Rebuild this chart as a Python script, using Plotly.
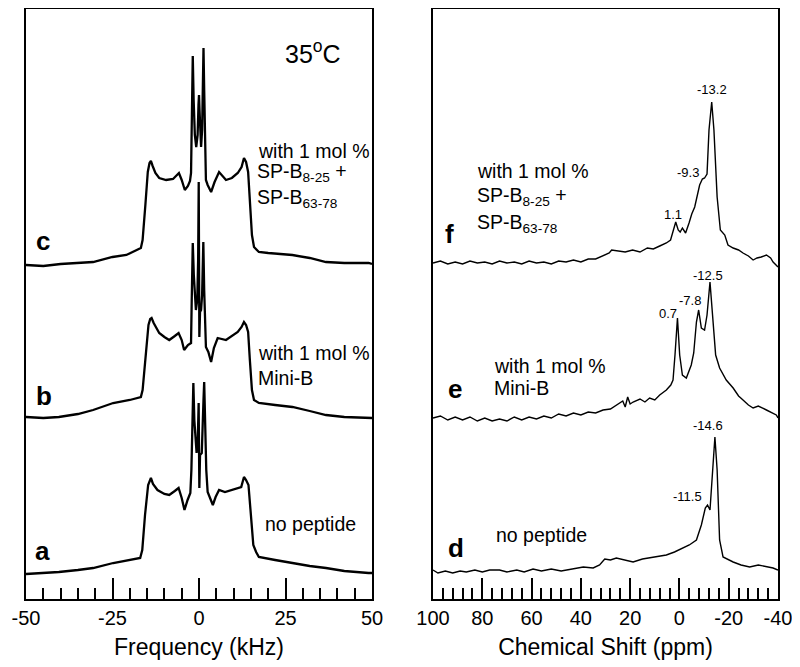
import plotly.graph_objects as go

FONT = "Liberation Sans, Arial, Helvetica, sans-serif"

# ---------------- Left panel: 2H NMR spectra (frequency, kHz) ----------------
c_khz = [-50, -45, -40, -35, -30.6, -25, -21, -16.8, -16.3, -15.5, -14.8, -14.3, -13.9, -13.4, -12.6,
         -11.5, -9.5, -7.5, -5.8, -5.0, -4.1, -3.2, -2.6, -2.3, -2.05, -1.8, -1.55, -1.2, -0.8, -0.4,
         -0.15, 0, 0.15, 0.35, 0.6, 0.9, 1.1, 1.3, 1.5, 1.75, 2.0, 2.5, 3.5, 4.5, 5.8,
         7.8, 9.5, 11.2, 12.3, 13.0, 13.6, 14.2, 14.7, 15.3, 15.9, 17.3, 20, 27, 32, 36.7, 42, 49, 50]
c_int = [0, -1, 1, 2, 3, 8, 10, 17, 25, 60, 93, 102, 104, 99, 92,
         87, 85, 86, 92, 85, 75, 79, 84, 92, 145, 209, 165, 130, 118, 130,
         160, 170, 155, 125, 118, 135, 175, 217, 175, 115, 85, 80, 73, 83, 93,
         85, 87, 92, 98, 107, 103, 93, 65, 30, 18, 13, 12, 10, 7, 3, 2, 2, 1]

b_khz = [-50, -45, -40.5, -35, -30.6, -27, -24.8, -20, -16.8, -16.3, -15.5, -14.6, -14.1, -13.7, -13.1,
         -11.5, -10, -8.6, -7, -5.9, -5, -4.3, -3.2, -2.3, -2.1, -1.8, -1.5, -1.2, -0.9, -0.5,
         -0.25, -0.08, 0.1, 0.3, 0.6, 0.9, 1.05, 1.25, 1.5, 1.8, 2.0, 2.7, 3.5, 4.3, 5.4,
         7.8, 9.5, 11.2, 12.3, 13.0, 13.6, 14.2, 14.7, 15.3, 15.9, 17.3, 22, 27, 32, 36.7, 42, 49, 50]
b_int = [1, 0, 1, 4, 8, 12, 15, 18, 21, 28, 63, 93, 99, 100, 95,
         85, 81, 78, 82, 85, 78, 68, 73, 75, 118, 175, 143, 118, 108, 118,
         158, 236, 81, 106, 108, 123, 148, 176, 128, 78, 71, 66, 56, 70, 80,
         78, 82, 86, 91, 96, 93, 86, 58, 28, 18, 15, 13, 11, 7, 3, 1, 0, 0]

a_khz = [-50, -45, -40.5, -35, -30.6, -24.8, -20, -17, -16.4, -15.6, -14.7, -14.2, -13.9, -13.3, -12,
         -10, -8.6, -7, -5.9, -5, -4.2, -3.3, -2.5, -2.2, -1.9, -1.63, -1.35, -1.0, -0.7, -0.35,
         -0.1, 0.1, 0.3, 0.8, 1.1, 1.3, 1.5, 1.75, 2.1, 2.5, 3.2, 4.0, 4.8, 5.8, 7.5,
         9.7, 12.2, 13.0, 13.6, 14.3, 15.0, 15.7, 16.5, 17.3, 22, 27, 32, 36.7, 42, 49, 50]
a_int = [-1, 0, 1, 3, 5, 10, 13, 15, 23, 58, 88, 94, 95, 89, 83,
         79, 78, 82, 85, 75, 63, 73, 80, 103, 153, 190, 153, 128, 120, 133,
         170, 85, 118, 120, 143, 173, 191, 153, 103, 81, 75, 68, 76, 83, 81,
         83, 86, 96, 93, 88, 53, 28, 21, 16, 13, 10, 7, 5, 2, 0, 0]

# ---------------- Right panel: 31P NMR spectra (chemical shift, ppm) ----------------
f_ppm = [100, 97, 94, 91, 88, 85, 82, 79, 76, 73, 70, 67, 64, 61, 58, 55, 52, 49, 46, 43,
         40, 37, 34, 31, 28.5, 27.5, 25, 22, 19, 16, 13, 10.6, 8, 5.3, 3.6, 2.6, 1.5, 0.5, -0.3, -1.2,
         -2.5, -3.9, -5, -6.2, -7.2, -8.2, -9.3, -10.2, -11.2, -12, -13.1, -14, -15.3, -16.6, -18.4,
         -19.7, -21.8, -24, -25.8, -28, -29.9, -31.5, -33.2, -35.3, -37, -38, -40]
f_int = [0, 2, -1, 1, -1, 2, 0, 1, -1, 2, 0, 1, -1, 2, 0, 1, -1, 2, 1, 3,
         1, 4, 4, 7, 10, 13, 12, 11, 13, 11, 15, 14, 17, 20, 23, 33, 41, 33, 31, 35,
         30, 40, 49, 56, 67, 78, 84, 85, 89, 133, 161, 133, 66, 33, 28,
         18, 15, 13, 10, 7, 3, 5, 6, 8, 5, 1, -4]

e_ppm = [100, 97, 94, 91, 88, 85, 82, 79, 76, 73, 70, 67, 64, 61, 58, 55, 52, 49, 46, 43,
         40, 37, 34, 31, 28, 25.6, 23, 22, 21, 20, 18.8, 16, 14, 12.1, 10, 8, 5.3, 3.5, 2.6, 1.8,
         0.8, -0.1, -1.2, -2.8, -4.8, -5.8, -6.9, -7.8, -8.9, -10.2, -11.2, -12.4, -13.4, -14.7, -16.3,
         -19, -21.8, -24, -25.8, -28, -29.9, -32, -35.3, -37, -39.3, -40]
e_int = [0, 2, -2, 1, -2, 1, -3, 0, -3, -1, -3, 1, -2, 1, -1, 2, 0, 4, 2, 5,
         3, 6, 5, 8, 9, 13, 17, 11, 21, 14, 16, 19, 16, 20, 18, 23, 28, 33, 38, 63,
         100, 63, 43, 40, 53, 65, 96, 108, 90, 88, 103, 136, 103, 63, 50,
         38, 30, 22, 18, 13, 10, 12, 8, 6, 3, 0]

d_ppm = [100, 98, 95, 92, 89, 86.5, 83, 80, 77, 73, 70, 66, 63, 59.4, 56, 52, 48, 45.9, 42, 39,
         35, 32.4, 30.3, 28, 25.6, 22, 18.8, 15, 12.1, 9, 5.3, 2, -1.4, -4, -6.9,
         -8.9, -10.5, -11.4, -12.4, -13.4, -14.4, -15.3, -16.3, -17.7, -20, -21.8, -25, -28.5, -32, -35.3,
         -38, -40]
d_int = [0, -3, -1, -3, -1, -2, 0, -2, 0, 0, -2, 0, -2, 1, -1, 1, -1, 0, 2, 3,
         2, 5, 11, 10, 12, 10, 8, 11, 12, 13, 15, 18, 22, 25, 30,
         45, 62, 65, 60, 100, 133, 100, 30, 13, 10, 8, 5, 3, 5, 3,
         2, 0]

left_ticks = [-50, -25, 0, 25, 50]
right_ticks = [100, 80, 60, 40, 20, 0, -20, -40]

# vertical stacking offsets of the traces
OFF_C, OFF_B, OFF_A = 334, 181, 26
OFF_F, OFF_E, OFF_D = 336, 181, 29

fig = go.Figure()

def add(x, y, off, ax, width):
    fig.add_trace(go.Scatter(
        x=x, y=[v + off for v in y], mode="lines",
        line=dict(color="black", width=width, shape="linear"),
        xaxis="x" if ax == 1 else "x2", yaxis="y" if ax == 1 else "y2",
        showlegend=False, hoverinfo="skip"))

add(c_khz, c_int, OFF_C, 1, 2.3)
add(b_khz, b_int, OFF_B, 1, 2.3)
add(a_khz, a_int, OFF_A, 1, 2.3)
add(f_ppm, f_int, OFF_F, 2, 1.4)
add(e_ppm, e_int, OFF_E, 2, 1.4)
add(d_ppm, d_int, OFF_D, 2, 1.4)

W, H = 800, 667
SHIFT = 8  # page offset of the figure inside the browser window
def px(x):
    return min(1.0, max(0.0, (x - SHIFT) / W))
def py(y):
    return min(1.0, max(0.0, 1 - (y - SHIFT) / H))

TOP, BOTTOM = 9, 599

axis_common = dict(showgrid=False, zeroline=False, showline=True, mirror=True,
                   linecolor="black", linewidth=2, automargin=False)

fig.update_layout(
    template="none",
    width=W, height=H, margin=dict(l=0, r=0, t=0, b=0, pad=0),
    paper_bgcolor="white", plot_bgcolor="white", showlegend=False,
    font=dict(family=FONT, color="black"),
    xaxis=dict(domain=[px(26), px(372)], range=[-50, 50], anchor="y",
               tickmode="array", tickvals=left_ticks, ticktext=[str(t) for t in left_ticks],
               ticks="inside", ticklen=21, tickwidth=1.5, tickcolor="black",
               minor=dict(ticks="inside", ticklen=11, tickwidth=1.5, tickcolor="black",
                          tickmode="linear", tick0=0, dtick=5),
               tickfont=dict(size=20, family=FONT),
               title=dict(text="Frequency (kHz)", font=dict(size=23, family=FONT), standoff=11),
               **axis_common),
    yaxis=dict(domain=[py(BOTTOM), py(TOP)], range=[0, BOTTOM - TOP], anchor="x",
               showticklabels=False, ticks="", **axis_common),
    xaxis2=dict(domain=[px(433), px(778)], range=[100, -40], anchor="y2",
                tickmode="array", tickvals=right_ticks, ticktext=[str(t) for t in right_ticks],
                ticks="inside", ticklen=21, tickwidth=1.5, tickcolor="black",
                minor=dict(ticks="inside", ticklen=11, tickwidth=1.5, tickcolor="black",
                           tickmode="linear", tick0=0, dtick=4),
                tickfont=dict(size=20, family=FONT),
                title=dict(text="Chemical Shift (ppm)", font=dict(size=23, family=FONT), standoff=11),
                **axis_common),
    yaxis2=dict(domain=[py(BOTTOM), py(TOP)], range=[0, BOTTOM - TOP], anchor="x2",
                showticklabels=False, ticks="", **axis_common),
)

ann = []
def text(x, y, s, size, anchor="left", bold=False):
    ann.append(dict(x=px(x), y=py(y), xref="paper", yref="paper", text=("<b>%s</b>" % s) if bold else s,
                    showarrow=False, xanchor=anchor, yanchor="middle",
                    font=dict(size=size, family=FONT, color="black")))

# temperature
text(283, 52, "35<sup>o</sup>C", 25)
# panel letters
text(43, 241, "c", 26, "center", True)
text(44, 396, "b", 26, "center", True)
text(42, 551, "a", 26, "center", True)
text(449, 234, "f", 26, "center", True)
text(455, 389, "e", 26, "center", True)
text(456, 548, "d", 26, "center", True)
# left labels
text(256, 151, "with 1 mol %", 19.5)
text(255, 172, "SP-B<sub>8-25</sub> +", 19.5)
text(255, 198, "SP-B<sub>63-78</sub>", 19.5)
text(256, 353, "with 1 mol %", 19.5)
text(256, 378, "Mini-B", 19.5)
text(263, 524, "no peptide", 19.5)
# right labels
text(475, 171, "with 1 mol %", 19.5)
text(475, 196, "SP-B<sub>8-25</sub> +", 19.5)
text(475, 223, "SP-B<sub>63-78</sub>", 19.5)
text(492, 366, "with 1 mol %", 19.5)
text(492, 388, "Mini-B", 19.5)
text(494, 535, "no peptide", 19.5)
# peak labels
text(712, 89, "-13.2", 13, "center")
text(688, 172, "-9.3", 13, "center")
text(673, 215, "1.1", 13, "center")
text(708, 275, "-12.5", 13, "center")
text(690, 300, "-7.8", 13, "center")
text(668, 313, "0.7", 13, "center")
text(708, 425, "-14.6", 13, "center")
text(687, 496, "-11.5", 13, "center")

fig.update_layout(annotations=ann)
fig.write_html("out.html")
